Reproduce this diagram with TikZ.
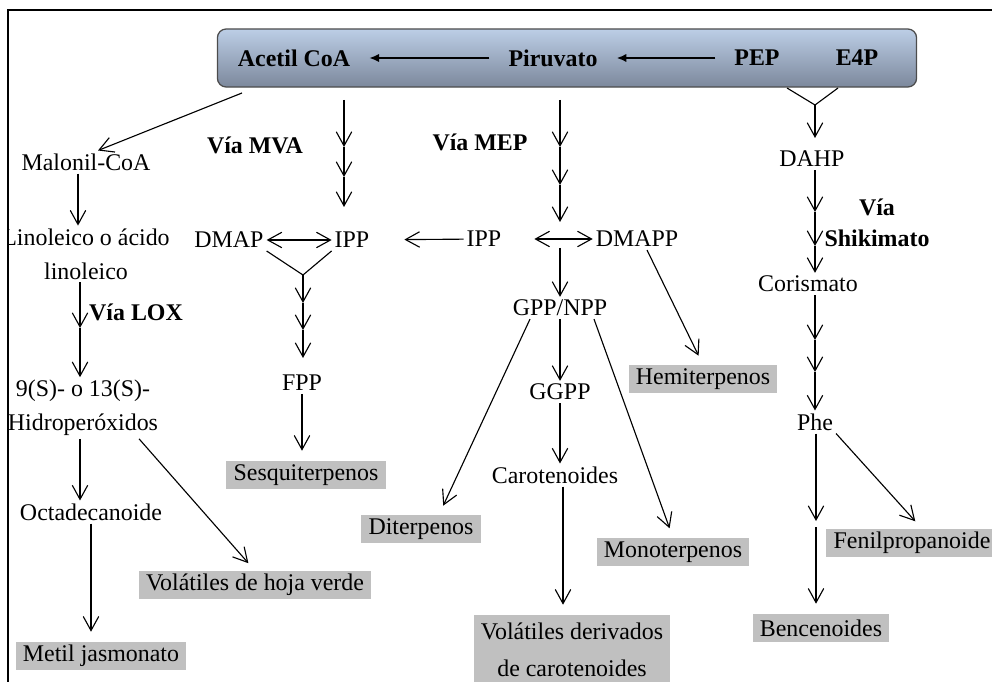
\documentclass[tikz,border=0pt]{standalone}
\usepackage{fontspec}
\setmainfont{Liberation Serif}
\usetikzlibrary{positioning,arrows.meta}

\definecolor{bandtop}{RGB}{188,206,230}
\definecolor{bandbot}{RGB}{124,136,156}
\definecolor{prodgray}{RGB}{192,192,192}

\begin{document}
\begin{tikzpicture}[
        x=0.025cm, y=-0.025cm,
        every node/.style={font=\fontsize{17}{24}\selectfont, inner sep=2pt},
        via/.style={font=\fontsize{17}{22}\selectfont\bfseries, align=center},
        band/.style={draw=black!70, line width=0.9pt, rounded corners=0.22cm, top color=bandtop, bottom color=bandbot, minimum width=17.475cm, minimum height=1.45cm},
        prod/.style={fill=prodgray, inner xsep=0.18cm, inner ysep=0pt, minimum height=0.7cm},
        ln/.style={line width=0.8pt},
        arr/.style={-{Straight Barb[length=10pt,width=11pt]}, line width=0.8pt},
        darr/.style={{Straight Barb[length=10pt,width=11pt]}-{Straight Barb[length=10pt,width=11pt]}, line width=0.8pt},
        barr/.style={-{Latex[length=7pt,width=6pt]}, line width=1.4pt, shorten <=0.4cm, shorten >=0.4cm},
        toprod/.style={shorten >=0.25cm}
    ]
    \useasboundingbox (0,0) rectangle (992,682);
    \draw[line width=1.4pt] (8,10) rectangle (1020,710);
    \clip (9,11) rectangle (1000,700);

    % banda superior
    \node[band] (band) at (567,58) {};
    \node[via] (acetil) at (294,58) {Acetil CoA};
    \node[via] (piru) at (553,58) {Piruvato};
    \node[via] (pep) at (757,58) {PEP};
    \node[via] (e4p) at (857,58) {E4P};
    \draw[barr] (pep) -- (piru);
    \draw[barr] (piru) -- (acetil);

    % via LOX
    \node (malonil) at (86,162) {Malonil-CoA};
    \node[align=center] (lino) at (86,254) {Linoleico o ácido\\linoleico};
    \node[via] (lox) at (136,312) {Vía LOX};
    \node[align=center] (hidro) at (83,408) {9(S)- o 13(S)-\\Hidroperóxidos};
    \node (octa) at (91,512) {Octadecanoide};
    \node[prod] (metil) at (101,656) {Metil jasmonato};
    \node[prod] (volhoja) at (255,585) {Volátiles de hoja verde};
    \coordinate (acS) at (242,93);
    \coordinate (lox1) at (80,328);

    \draw[arr] (acS) -- ([xshift=0.3cm]malonil.north);
    \draw[arr] ([xshift=-0.2cm]malonil.south) -- ([xshift=-0.2cm]lino.north);
    \draw[arr] (lino.south -| lox1) -- (lox1);
    \draw[arr] (lox1) -- (hidro.north -| lox1);
    \draw[arr] (hidro.south -| lox1) -- (octa.north -| lox1);
    \draw[arr, toprod] (octa.south) -- (octa.south |- metil.north);
    \draw[arr, toprod] ([xshift=1.4cm]hidro.south) -- (volhoja.north);

    % via MVA
    \node[via] (mva) at (255,145) {Vía MVA};
    \node (dmap) at (229,240) {DMAP};
    \node (ipp1) at (352,240) {IPP};
    \node (fpp) at (302,383) {FPP};
    \node[prod] (sesq) at (306,475) {Sesquiterpenos};
    \coordinate (mva0) at (344,100);
    \coordinate (mva1) at (344,147);
    \coordinate (mva2) at (344,177);
    \coordinate (mva3) at (344,207);
    \coordinate (mvaY) at (303,275);
    \coordinate (fpp1) at (303,303);
    \coordinate (fpp2) at (303,330);
    \coordinate (fpp3) at (303,358);

    \draw[arr] (mva0) -- (mva1);
    \draw[arr] (mva1) -- (mva2);
    \draw[arr] (mva2) -- (mva3);
    \draw[darr] (dmap) -- (ipp1);
    \draw[ln] (dmap.south east) -- (mvaY) -- (ipp1.south west);
    \draw[arr] (mvaY) -- (fpp1);
    \draw[arr] (fpp1) -- (fpp2);
    \draw[arr] (fpp2) -- (fpp3);
    \draw[arr, toprod] (fpp) -- (fpp |- sesq.north);

    % via MEP
    \node[via] (mep) at (480,142) {Vía MEP};
    \node (ipp2) at (484,239) {IPP};
    \node (dmapp) at (637,239) {DMAPP};
    \node (gpp) at (560,308) {GPP/NPP};
    \node (ggpp) at (560,392) {GGPP};
    \node (carot) at (555,475) {Carotenoides};
    \node[prod] (hemi) at (703,379) {Hemiterpenos};
    \node[prod] (diter) at (421,529) {Diterpenos};
    \node[prod] (mono) at (673,552) {Monoterpenos};
    \node[prod, align=center, font=\fontsize{17}{26}\selectfont, minimum height=1.75cm] (volcar) at (572,650) {Volátiles derivados\\de carotenoides};
    \coordinate (mep0) at (560,100);
    \coordinate (mep1) at (560,147);
    \coordinate (mep2) at (560,185);
    \coordinate (mep3) at (560,222);
    \coordinate (mepD) at (560,248);

    \draw[arr] (mep0) -- (mep1);
    \draw[arr] (mep1) -- (mep2);
    \draw[arr] (mep2) -- (mep3);
    \draw[darr, shorten <=0.75cm] (ipp2) -- (dmapp);
    \draw[arr, shorten >=0.8cm] (ipp2) -- (ipp1);
    \draw[arr] (mepD) -- (gpp);
    \draw[arr] (gpp) -- (ggpp);
    \draw[arr] (ggpp) -- (ggpp |- carot.north);
    \draw[arr, toprod] ([xshift=0.2cm]carot.south) -- ([xshift=0.2cm]carot.south |- volcar.north);
    \draw[arr, toprod] ([xshift=-0.75cm]gpp.south) -- ([xshift=0.45cm]diter.north);
    \draw[arr, toprod] ([xshift=0.85cm]gpp.south) -- (mono.north);
    \draw[arr, toprod] ([xshift=0.25cm]dmapp.south) -- (hemi.north);

    % via Shikimato
    \node (dahp) at (812,159) {DAHP};
    \node[via] (shiki) at (877,223) {Vía\\Shikimato};
    \node (coris) at (808,284) {Corismato};
    \node (phe) at (815,422) {Phe};
    \node[prod] (fenil) at (912,543) {Fenilpropanoide};
    \node[prod] (benc) at (821,628) {Bencenoides};
    \coordinate (shkL) at (787,88);
    \coordinate (shkR) at (838,88);
    \coordinate (shkY) at (815,105);
    \coordinate (shk1) at (815,212);
    \coordinate (shk2) at (815,246);
    \coordinate (cor1) at (815,340);
    \coordinate (cor2) at (815,372);
    \coordinate (pheM) at (816,521);

    \draw[ln] (shkL) -- (shkY) -- (shkR);
    \draw[arr, shorten >=0.25cm] (shkY) -- (shkY |- dahp.north);
    \draw[arr] (dahp.south -| shk1) -- (shk1);
    \draw[arr] (shk1) -- (shk2);
    \draw[arr] (shk2) -- (shk2 |- coris.north);
    \draw[arr] (coris.south -| cor1) -- (cor1);
    \draw[arr] (cor1) -- (cor2);
    \draw[arr] (cor2) -- (cor2 |- phe.north);
    \draw[arr] (phe.south -| pheM) -- (pheM);
    \draw[arr, toprod, shorten <=0.15cm] (pheM) -- (pheM |- benc.north);
    \draw[arr, toprod] (phe.south east) -- ([xshift=0.25cm]fenil.north);
\end{tikzpicture}
\end{document}
